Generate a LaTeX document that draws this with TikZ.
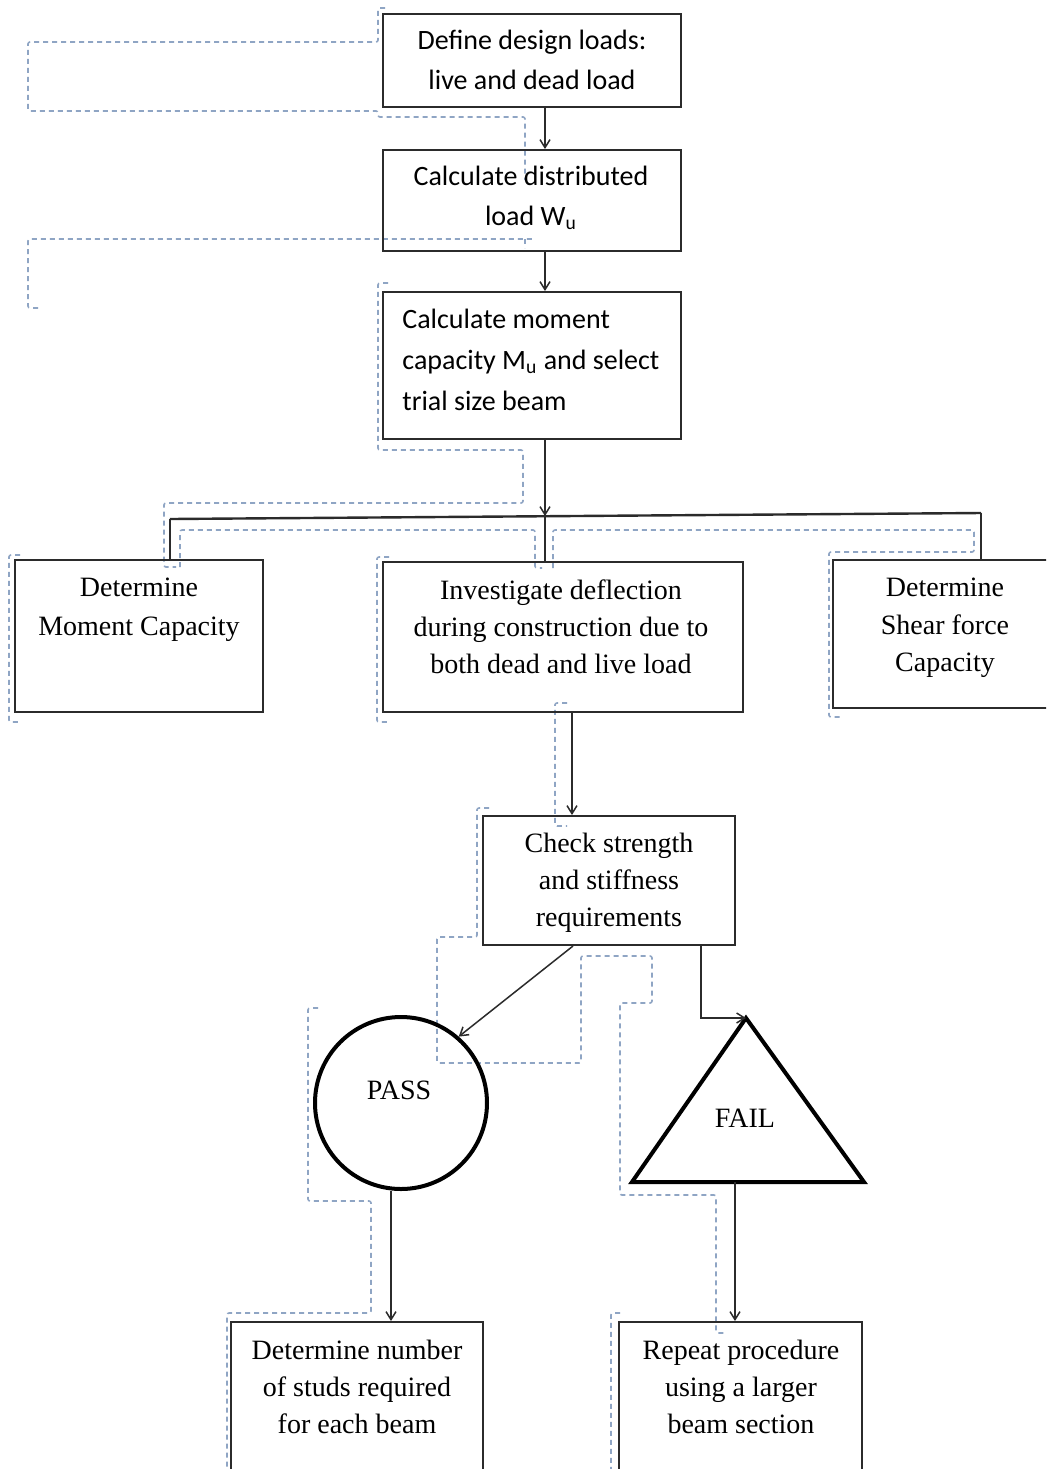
\documentclass[tikz,border=0pt]{standalone}
\usepackage{fontspec}
\setmainfont{Liberation Serif}
\newfontfamily\calib{Carlito}
\usetikzlibrary{arrows.meta,fit,calc}

\definecolor{boxline}{HTML}{2B2B2B}
\definecolor{frameline}{HTML}{8FA5C4}

\tikzset{
  box/.style={draw=boxline, line width=1pt, inner sep=0pt},
  ctext/.style={font=\calib\fontsize{14pt}{20pt}\selectfont, align=center, inner sep=0pt},
  ltext/.style={font=\calib\fontsize{14pt}{20.5pt}\selectfont, align=left, inner sep=0pt},
  ttext/.style={font=\fontsize{14pt}{18.5pt}\selectfont, align=center, inner sep=0pt},
  conn/.style={draw=boxline, line width=0.75pt},
  arr/.style={conn, -{Straight Barb[length=4pt,width=5pt]}},
  busline/.style={draw=boxline, line width=1.2pt},
  heavy/.style={draw=black, line width=2pt},
  frame/.style={draw=frameline, line width=0.8pt, dash pattern=on 2.5pt off 2pt, rounded corners=1pt},
}

\begin{document}
\begin{tikzpicture}[x=0.5pt, y=-0.5pt]
  \useasboundingbox (0,0) rectangle (1046,1469);
  \clip (0,0) rectangle (1046,1469);
  \fill[white] (0,0) rectangle (1046,1469);

  % text-frame outlines
  \draw[frame] (385,8) -- (378,8) -- (378,42) -- (28,42) -- (28,111) -- (378,111)
               -- (378,117) -- (525,117) -- (525,180);
  \draw[frame] (38,308) -- (28,308) -- (28,239) -- (532,239);
  \draw[frame] (525,239) -- (525,248);
  \draw[frame] (388,283) -- (378,283) -- (378,450) -- (523,450) -- (523,503)
               -- (164,503) -- (164,567) -- (176,567);
  \draw[frame] (180,567) -- (180,530) -- (535,530) -- (535,568) -- (542,568);
  \draw[frame] (553,568) -- (553,530) -- (974,530) -- (974,552) -- (829,552)
               -- (829,717) -- (841,717);
  \draw[frame] (20,555) -- (9,555) -- (9,722) -- (20,722);
  \draw[frame] (389,557) -- (377,557) -- (377,722) -- (389,722);
  \draw[frame] (567,703) -- (555,703) -- (555,826) -- (567,826);
  \draw[frame] (489,808) -- (477,808) -- (477,937) -- (437,937) -- (437,1063)
               -- (581,1063) -- (581,956) -- (652,956) -- (652,1003) -- (620,1003)
               -- (620,1195) -- (716,1195) -- (716,1333) -- (727,1333);
  \draw[frame] (318,1008) -- (308,1008) -- (308,1201) -- (371,1201) -- (371,1313)
               -- (227,1313) -- (227,1480);
  \draw[frame] (620,1313) -- (611,1313) -- (611,1480);

  % process boxes
  \node[box, fit={(383,14) (681,107)}] (def) {};
  \node[box, fit={(383,150) (681,251)}] (dist) {};
  \node[box, fit={(383,292) (681,439)}] (mom) {};
  \node[box, fit={(15,560) (263,712)}] (detmc) {};
  \node[box, fit={(383,562) (743,712)}] (inv) {};
  \node[box, fit={(833,560) (1060,708)}] (shear) {};
  \node[box, fit={(483,816) (735,945)}] (chk) {};
  \node[box, fit={(231,1322) (483,1480)}] (studs) {};
  \node[box, fit={(619,1322) (862,1480)}] (rep) {};

  % decision shapes
  \node[heavy, circle, minimum size=86pt, inner sep=0pt] (pass) at (401,1103) {};
  \coordinate (fa) at (746,1018);
  \coordinate (fl) at (632,1182);
  \coordinate (fr) at (864,1182);
  \coordinate (fbase) at (735,1182);
  \draw[heavy, line join=miter] (fa) -- (fr) -- (fl) -- cycle;

  % labels
  \node[ctext] (tdef) at (532,60) {Define design loads:\\live and dead load};
  \node[ctext] (tdist) at (531,198) {Calculate distributed\\load W\textsubscript{u}};
  \node[ltext, anchor=west] (tmom) at (402,360) {Calculate moment\\capacity M\textsubscript{u} and select\\trial size beam};
  \node[ttext, font=\fontsize{14pt}{19.5pt}\selectfont] (tdetmc) at (139,610) {Determine\\Moment Capacity};
  \node[ttext] (tinv) at (561,627) {Investigate deflection\\during construction due to\\both dead and live load};
  \node[ttext, font=\fontsize{14pt}{18.8pt}\selectfont] (tshear) at (945,628) {Determine\\Shear force\\Capacity};
  \node[ttext] (tchk) at (609,883) {Check strength\\and stiffness\\requirements};
  \node[ttext] (tpass) at (399,1090) {PASS};
  \node[ttext] (tfail) at (745,1118) {FAIL};
  \node[ttext] (tstuds) at (357,1387) {Determine number\\of studs required\\for each beam};
  \node[ttext] (trep) at (741,1387) {Repeat procedure\\using a larger\\beam section};

  % connectors
  \coordinate (sp) at (545,0);
  \coordinate (c572) at (572,0);
  \coordinate (c573) at (573,0);
  \coordinate (c701) at (701,0);
  \coordinate (c391) at (391,0);
  \coordinate (c735) at (735,0);
  \coordinate (busL) at (170,519);
  \coordinate (busM) at (545,516);
  \coordinate (busR) at (981,513);

  \draw[arr] (def.south -| sp) -- (dist.north -| sp);
  \draw[arr] (dist.south -| sp) -- (mom.north -| sp);
  \draw[arr] (mom.south -| sp) -- (busM);
  \draw[busline] (busL) -- (busR);
  \draw[conn] (busL) -- (detmc.north -| busL);
  \draw[conn] (busM) -- (inv.north -| busM);
  \draw[conn] (busR) -- (shear.north -| busR);
  \draw[arr] (inv.south -| c572) -- (chk.north -| c572);
  \draw[arr] (chk.south -| c573) -- (pass.49);
  \draw[arr] (chk.south -| c701) |- (fa);
  \draw[arr] (pass.south -| c391) -- (studs.north -| c391);
  \draw[arr] (fbase) -- (rep.north -| c735);
\end{tikzpicture}
\end{document}
